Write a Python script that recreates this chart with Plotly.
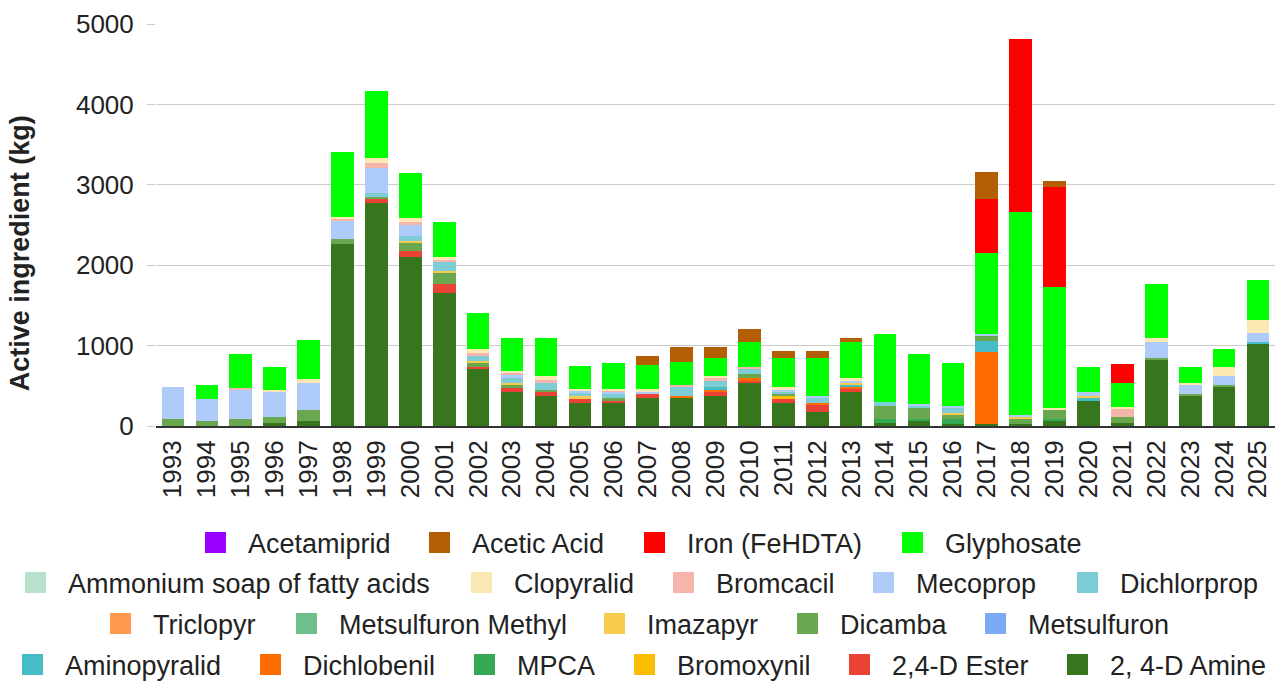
import plotly.graph_objects as go

years = ["1993", "1994", "1995", "1996", "1997", "1998", "1999", "2000", "2001", "2002",
         "2003", "2004", "2005", "2006", "2007", "2008", "2009", "2010", "2011", "2012",
         "2013", "2014", "2015", "2016", "2017", "2018", "2019", "2020", "2021", "2022",
         "2023", "2024", "2025"]

# Series values (kg), stacking order bottom -> top
amine_24d = [0, 0, 0, 33, 60, 2267, 2769, 2099, 1650, 704, 425, 372, 285, 285, 343, 343, 372, 536,
             285, 175, 425, 33, 58, 29, 29, 29, 58, 314, 35, 819, 372, 483, 1016]
ester_24d = [0, 0, 0, 0, 0, 0, 53, 82, 111, 33, 53, 53, 53, 29, 53, 0, 53, 29,
             53, 82, 41, 0, 0, 0, 0, 0, 0, 0, 0, 0, 0, 0, 0]
bromoxynil = [0, 0, 0, 0, 0, 0, 0, 0, 0, 0, 0, 0, 0, 0, 0, 0, 0, 0,
              29, 0, 0, 0, 0, 0, 0, 0, 0, 0, 0, 0, 0, 0, 0]
mpca = [0, 0, 0, 0, 0, 0, 0, 0, 0, 0, 0, 0, 0, 0, 0, 0, 0, 0,
        0, 0, 0, 49, 25, 53, 0, 0, 25, 0, 0, 0, 0, 0, 0]
dichlobenil = [0, 0, 0, 0, 0, 0, 0, 0, 0, 0, 0, 0, 0, 0, 0, 29, 29, 29,
               0, 29, 16, 0, 0, 0, 889, 0, 0, 0, 0, 0, 0, 0, 0]
aminopyralid = [0, 0, 0, 0, 0, 0, 0, 0, 0, 0, 0, 0, 0, 0, 0, 0, 29, 0,
                0, 0, 29, 0, 0, 0, 140, 0, 0, 29, 0, 0, 0, 0, 25]
metsulfuron = [0] * 33
dicamba = [90, 60, 90, 82, 143, 53, 29, 91, 136, 49, 37, 29, 0, 29, 0, 0, 0, 57,
           29, 0, 0, 169, 140, 53, 58, 53, 111, 0, 82, 29, 25, 29, 0]
imazapyr = [0, 0, 0, 0, 0, 0, 0, 30, 29, 25, 20, 0, 29, 0, 0, 0, 0, 0,
            0, 0, 25, 0, 0, 29, 0, 25, 0, 29, 0, 0, 0, 0, 0]
metsulfuron_methyl = [0] * 33
triclopyr = [0] * 33
dichlorprop = [0, 0, 0, 0, 0, 0, 53, 58, 115, 62, 58, 82, 41, 53, 0, 111, 82, 53,
               29, 57, 0, 53, 29, 58, 0, 0, 0, 0, 0, 0, 0, 0, 0]
mecoprop = [390, 275, 360, 312, 328, 226, 309, 140, 0, 0, 37, 0, 29, 25, 29, 0, 0, 0,
            29, 29, 29, 0, 21, 25, 29, 33, 0, 53, 0, 193, 115, 111, 111]
bromcacil = [0, 0, 25, 0, 0, 29, 62, 33, 29, 29, 25, 33, 0, 25, 0, 29, 29, 29,
             0, 0, 0, 0, 0, 0, 0, 0, 0, 0, 90, 0, 0, 0, 0]
clopyralid = [0, 0, 0, 25, 57, 25, 53, 49, 29, 53, 25, 53, 25, 12, 33, 0, 29, 0,
              29, 0, 29, 0, 0, 0, 0, 0, 29, 0, 25, 53, 25, 111, 168]
ammonium_soap = [0] * 33
glyphosate = [0, 170, 422, 279, 476, 811, 839, 560, 444, 448, 415, 472, 283, 329, 304, 279, 222, 308,
              361, 472, 448, 839, 621, 535, 1008, 2518, 1510, 308, 304, 674, 197, 222, 501]
iron = [0, 0, 0, 0, 0, 0, 0, 0, 0, 0, 0, 0, 0, 0, 0, 0, 0, 0,
        0, 0, 0, 0, 0, 0, 675, 2160, 1235, 0, 230, 0, 0, 0, 0]
acetic_acid = [0, 0, 0, 0, 0, 0, 0, 0, 0, 0, 0, 0, 0, 0, 111, 193, 140, 164,
               86, 86, 53, 0, 0, 0, 333, 0, 82, 0, 0, 0, 0, 0, 0]
acetamiprid = [0] * 33

series = [
    ("2, 4-D Amine", amine_24d, "#38761d"),
    ("2,4-D Ester", ester_24d, "#ea4335"),
    ("Bromoxynil", bromoxynil, "#fbbc04"),
    ("MPCA", mpca, "#34a853"),
    ("Dichlobenil", dichlobenil, "#ff6d01"),
    ("Aminopyralid", aminopyralid, "#46bdc6"),
    ("Metsulfuron", metsulfuron, "#7baaf7"),
    ("Dicamba", dicamba, "#6aa84f"),
    ("Imazapyr", imazapyr, "#f7cb4d"),
    ("Metsulfuron Methyl", metsulfuron_methyl, "#6fbf8b"),
    ("Triclopyr", triclopyr, "#ff994d"),
    ("Dichlorprop", dichlorprop, "#7ecdd6"),
    ("Mecoprop", mecoprop, "#aecbfa"),
    ("Bromcacil", bromcacil, "#f5b5ab"),
    ("Clopyralid", clopyralid, "#fce8b2"),
    ("Ammonium soap of fatty acids", ammonium_soap, "#b7e1cd"),
    ("Glyphosate", glyphosate, "#00ff00"),
    ("Iron (FeHDTA)", iron, "#ff0000"),
    ("Acetic Acid", acetic_acid, "#b45f06"),
    ("Acetamiprid", acetamiprid, "#9900ff"),
]

# Legend layout: (name, swatch left edge px, row centre px)
legend_slots = [
    ("Acetamiprid", 202, 543), ("Acetic Acid", 426, 543),
    ("Iron (FeHDTA)", 641, 543), ("Glyphosate", 899, 543),
    ("Ammonium soap of fatty acids", 22, 583), ("Clopyralid", 468, 583),
    ("Bromcacil", 670, 583), ("Mecoprop", 870, 583), ("Dichlorprop", 1074, 583),
    ("Triclopyr", 107, 624), ("Metsulfuron Methyl", 293, 624),
    ("Imazapyr", 601, 624), ("Dicamba", 794, 624), ("Metsulfuron", 982, 624),
    ("Aminopyralid", 17, 665), ("Dichlobenil", 257, 665), ("MPCA", 471, 665),
    ("Bromoxynil", 631, 665), ("2,4-D Ester", 846, 665), ("2, 4-D Amine", 1064, 665),
]

W, H = 1284, 682
FONT = "Arial, Liberation Sans, sans-serif"
TXT = "#222222"
ITEMW = 55
colors = {name: col for name, _, col in series}

fig = go.Figure()
for name, vals, col in series:
    fig.add_trace(go.Bar(x=years, y=vals, name=name, marker_color=col,
                         marker_line_width=0, legendgroup=name, showlegend=False))

legend_layout = {}
for i, (name, left, yc) in enumerate(legend_slots):
    lid = "legend" if i == 0 else f"legend{i + 1}"
    fig.add_trace(go.Scatter(x=[None], y=[None], mode="markers", name=name,
                             legendgroup=name, legend=lid,
                             marker=dict(symbol="square", size=16, color=colors[name],
                                         line=dict(width=5, color=colors[name]))))
    centre_off = (ITEMW + 10) / 2
    legend_layout[lid] = dict(orientation="h", xref="container", yref="container",
                              x=(left + 13.5 - centre_off) / W, xanchor="left",
                              y=1 - yc / H, yanchor="middle",
                              font=dict(family=FONT, size=27, color=TXT),
                              bgcolor="rgba(0,0,0,0)", borderwidth=0, itemwidth=ITEMW)

fig.update_layout(
    width=W, height=H,
    barmode="stack", bargap=0.333,
    plot_bgcolor="white", paper_bgcolor="white",
    margin=dict(l=156, r=9, t=20, b=256),
    font=dict(family=FONT, size=26, color=TXT),
    xaxis=dict(type="category", tickangle=-90, tickfont=dict(size=26, color=TXT),
               showgrid=False, showline=True, linecolor="#333333", linewidth=2,
               ticks="", ticklabelstandoff=2),
    yaxis=dict(range=[0, 5000], tickvals=[0, 1000, 2000, 3000, 4000, 5000],
               tickfont=dict(size=26, color=TXT), showgrid=True,
               gridcolor="#cccccc", gridwidth=1, zeroline=False,
               ticks="outside", ticklen=8, tickcolor="#cccccc", ticklabelstandoff=8),
    annotations=[dict(text="<b>Active ingredient (kg)</b>", textangle=-90,
                      xref="paper", yref="paper", x=0, y=(426 - 251.5) / 406,
                      xanchor="center", yanchor="middle", xshift=-136, showarrow=False,
                      font=dict(family=FONT, size=27, color=TXT))],
    **legend_layout,
)

fig.write_html("out.html", config={"displayModeBar": False},
               post_script="document.body.style.margin='0';")
